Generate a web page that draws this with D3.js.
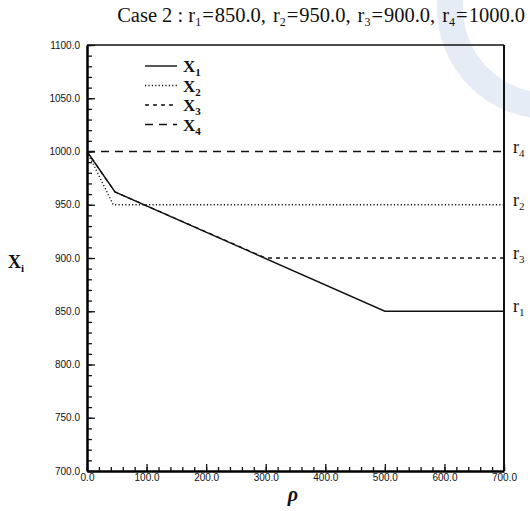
<!DOCTYPE html>
<html lang="en">
<head>
<meta charset="UTF-8">
<title>Case 2</title>
<style>
  body { margin: 0; background: #fff; }
  .tickLabel { font-family: "Liberation Sans", Arial, sans-serif; font-size: 10px; fill: #111; }
  .serif { font-family: "Liberation Serif", "Times New Roman", serif; fill: #111; }
</style>
</head>
<body>
<div id="chart"></div>
<script src="https://d3js.org/d3.v7.min.js"></script>
<script>
// data
const seriesNames = ['1', '2', '3', '4'];        // subscripts of X
const rhoX1 = [0, 47, 500, 700];
const valX1 = [1000, 962, 850, 850];
const rhoX2 = [0, 44, 700];
const valX2 = [1000, 950, 950];
const rhoX3 = [0, 47, 300, 700];
const valX3 = [1000, 962, 900, 900];
const rhoX4 = [0, 700];
const valX4 = [1000, 1000];
const xTickValues = [0, 100, 200, 300, 400, 500, 600, 700];
const yTickValues = [700, 750, 800, 850, 900, 950, 1000, 1050, 1100];
const refNames = ['4', '2', '3', '1'];
const refValues = [1000, 950, 900, 850];
const titleParts = [['r', '1', '850.0'], ['r', '2', '950.0'], ['r', '3', '900.0'], ['r', '4', '1000.0']];

const width = 530, height = 511;
const plot = { left: 87, right: 504, top: 45, bottom: 471 };

const svg = d3.select('#chart').append('svg')
  .attr('width', width).attr('height', height);

// faint watermark of the scan
svg.append('circle')
  .attr('cx', 548).attr('cy', 8).attr('r', 98)
  .attr('fill', 'none').attr('stroke', '#e6ecf6').attr('stroke-width', 26);

const x = d3.scaleLinear().domain([0, 700]).range([plot.left, plot.right]);
const y = d3.scaleLinear().domain([700, 1100]).range([plot.bottom, plot.top]);

// frame
svg.append('line').attr('x1', plot.left).attr('x2', plot.right)
  .attr('y1', plot.top).attr('y2', plot.top).attr('stroke', '#111').attr('stroke-width', 1.5);
svg.append('line').attr('x1', plot.right).attr('x2', plot.right)
  .attr('y1', plot.top).attr('y2', plot.bottom).attr('stroke', '#111').attr('stroke-width', 2);

// minor ticks
const xMinor = d3.axisBottom(x).tickValues(d3.range(0, 701, 20)).tickSizeInner(-4).tickSizeOuter(0).tickFormat('');
svg.append('g').attr('transform', `translate(0,${plot.bottom})`).call(xMinor)
  .call(g => g.select('.domain').remove());
const yMinor = d3.axisLeft(y).tickValues(d3.range(700, 1101, 10)).tickSizeInner(-5).tickSizeOuter(0).tickFormat('');
svg.append('g').attr('transform', `translate(${plot.left},0)`).call(yMinor)
  .call(g => g.select('.domain').remove());

// major axes
const xAxis = d3.axisBottom(x).tickValues(xTickValues).tickSizeInner(-7).tickSizeOuter(0)
  .tickPadding(3).tickFormat(d3.format('.1f'));
svg.append('g').attr('transform', `translate(0,${plot.bottom})`).call(xAxis)
  .call(g => g.select('.domain').attr('stroke-width', 2.5))
  .call(g => g.selectAll('.tick text').attr('class', 'tickLabel').attr('font-size', null).attr('font-family', null));

const yAxis = d3.axisLeft(y).tickValues(yTickValues).tickSizeInner(-8).tickSizeOuter(0)
  .tickPadding(7).tickFormat(d3.format('.1f'));
svg.append('g').attr('transform', `translate(${plot.left},0)`).call(yAxis)
  .call(g => g.select('.domain').attr('stroke-width', 2.5))
  .call(g => g.selectAll('.tick text').attr('class', 'tickLabel').attr('font-size', null).attr('font-family', null));

svg.selectAll('.tick line').attr('stroke', '#111').attr('stroke-width', 1.3);

// series
const series = [
  { name: seriesNames[0], rho: rhoX1, val: valX1, dash: null, w: 1.4 },
  { name: seriesNames[1], rho: rhoX2, val: valX2, dash: '1.2,2.2', w: 1.3 },
  { name: seriesNames[2], rho: rhoX3, val: valX3, dash: '4,4', w: 1.3 },
  { name: seriesNames[3], rho: rhoX4, val: valX4, dash: '8,6', w: 1.4 }
];

const line = d3.line().x(d => x(d[0])).y(d => y(d[1]));

svg.append('g').selectAll('path')
  .data(series)
  .join('path')
  .attr('d', s => line(s.rho.map((r, i) => [r, s.val[i]])))
  .attr('fill', 'none')
  .attr('stroke', '#111')
  .attr('stroke-width', s => s.w)
  .attr('stroke-dasharray', s => s.dash);

// legend
const legend = svg.append('g').selectAll('g')
  .data(series)
  .join('g')
  .attr('transform', (d, i) => `translate(145, ${66 + i * 19.5})`);

legend.append('line')
  .attr('x1', 0).attr('x2', 32).attr('y1', 0).attr('y2', 0)
  .attr('stroke', '#111')
  .attr('stroke-width', d => d.w)
  .attr('stroke-dasharray', d => d.dash);

const legText = legend.append('text')
  .attr('class', 'serif')
  .attr('x', 38).attr('y', 6)
  .attr('font-size', '17px')
  .attr('font-weight', 'bold');
legText.append('tspan').text('X');
legText.append('tspan').attr('font-size', '11px').attr('dy', 4).text(d => d.name);

// right side labels
const refText = svg.append('g').selectAll('text')
  .data(refNames)
  .join('text')
  .attr('class', 'serif')
  .attr('x', plot.right + 9)
  .attr('y', (d, i) => y(refValues[i]) + 1)
  .attr('font-size', '18px');
refText.append('tspan').text('r');
refText.append('tspan').attr('font-size', '11px').attr('dy', 4).text(d => d);

// y label
const yLab = svg.append('text').attr('class', 'serif')
  .attr('x', 8).attr('y', 268).attr('font-size', '18px').attr('font-weight', 'bold');
yLab.append('tspan').text('X');
yLab.append('tspan').attr('font-size', '11px').attr('dy', 4).text('i');

// x label
svg.append('text').attr('class', 'serif')
  .attr('x', 293).attr('y', 501)
  .attr('text-anchor', 'middle')
  .attr('font-size', '20px').attr('font-weight', 'bold').attr('font-style', 'italic')
  .text('ρ');

// title, right aligned near the edge as in the scan
const title = svg.append('text').attr('class', 'serif')
  .attr('x', 525).attr('y', 22).attr('font-size', '20.5px')
  .attr('text-anchor', 'end');
title.append('tspan').text('Case  2 : ');
titleParts.forEach((p, i) => {
  title.append('tspan').attr('dx', i === 0 ? 0 : 7).text(p[0]);
  title.append('tspan').attr('font-size', '12px').attr('dy', 4).text(p[1]);
  title.append('tspan').attr('dy', -4).attr('dx', 1).text('=');
  title.append('tspan').attr('dx', 1).text(p[2] + (i < titleParts.length - 1 ? ',' : ''));
});
</script>
</body>
</html>
